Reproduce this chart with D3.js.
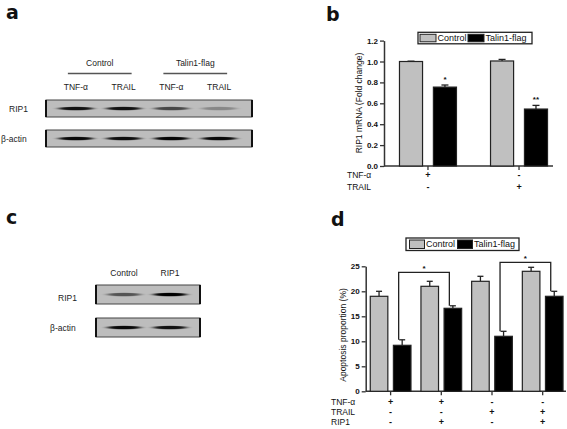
<!DOCTYPE html>
<html><head><meta charset="utf-8">
<script src="https://cdn.jsdelivr.net/npm/d3@7"></script>
<style>
html,body{margin:0;padding:0;background:#fff;}
svg{display:block;font-family:"Liberation Sans",Arial,sans-serif;}
</style></head>
<body>
<svg id="fig" width="567" height="429"></svg>
<script>
// ---------- DATA ----------
// Panel a (western blot)
const blotALanes = ["TNF-α (Control)", "TRAIL (Control)", "TNF-α (Talin1-flag)", "TRAIL (Talin1-flag)"];
const blotALaneLabels = ["TNF-α", "TRAIL", "TNF-α", "TRAIL"];
const blotAGroups = ["Control", "Talin1-flag"];
const blotARows = ["RIP1", "β-actin"];
const blotARip1 = [0.9, 0.9, 0.62, 0.28];
const blotAActin = [0.95, 0.92, 0.97, 0.95];

// Panel c (western blot)
const blotCLanes = ["Control", "RIP1"];
const blotCRows = ["RIP1", "β-actin"];
const blotCRip1 = [0.55, 1.0];
const blotCActin = [0.95, 0.9];

// Panel b (RIP1 mRNA)
const seriesNames = ["Control", "Talin1-flag"];
const bGroups = ["TNF-α", "TRAIL"];
const bControl = [1.0, 1.005];
const bControlErr = [0.003, 0.015];
const bTalin = [0.755, 0.545];
const bTalinErr = [0.02, 0.035];
const bStars = ["*", "**"];
const bTicks = [0, 0.2, 0.4, 0.6, 0.8, 1.0, 1.2];
const bRowLabels = ["TNF-α", "TRAIL"];
const bRowSigns = [["+", "-"], ["-", "+"]];

// Panel d (apoptosis)
const dGroups = ["TNF", "TNF+RIP1", "TRAIL", "TRAIL+RIP1"];
const dControl = [19, 21, 22, 24];
const dControlErr = [1.0, 1.0, 1.0, 0.8];
const dTalin = [9.2, 16.6, 11, 19];
const dTalinErr = [1.1, 0.5, 1.0, 1.0];
const dTicks = [0, 5, 10, 15, 20, 25];
const dRowLabels = ["TNF-α", "TRAIL", "RIP1"];
const dRowSigns = [["+", "+", "-", "-"], ["-", "-", "+", "+"], ["-", "+", "-", "+"]];
// significance brackets: from group, to group, bracket top value, left leg end, right leg end
const dBrackets = [
  {from: 0, to: 1, top: 23.8, left: 10.3, right: 17.1, label: "*"},
  {from: 2, to: 3, top: 25.8, left: 12.0, right: 20.0, label: "*"}
];

// ---------- DRAW ----------
const svg = d3.select("#fig");
const defs = svg.append("defs");
defs.append("filter").attr("id", "bandBlur").attr("x", "-30%").attr("y", "-200%").attr("width", "160%").attr("height", "500%")
  .append("feGaussianBlur").attr("stdDeviation", "3 0.6");

const GREY = "#c0c0c0";
const AX = "#333";

function panelLetter(t, x, y) {
  svg.append("text").attr("x", x).attr("y", y).attr("font-size", 19).attr("font-weight", "bold")
    .attr("font-family", "'DejaVu Sans','Liberation Sans',sans-serif").attr("fill", "#111").text(t);
}

function blot(lanesScale, lanes, values, y0, y1, x0, x1) {
  const g = svg.append("g");
  g.append("rect").attr("x", x0).attr("y", y0).attr("width", x1 - x0).attr("height", y1 - y0)
    .attr("fill", "#bdbdbd").attr("stroke", "#444").attr("stroke-width", 1);
  g.append("line").attr("x1", x0).attr("x2", x0).attr("y1", y0).attr("y2", y1).attr("stroke", "#111").attr("stroke-width", 2);
  g.append("line").attr("x1", x1).attr("x2", x1).attr("y1", y0).attr("y2", y1).attr("stroke", "#111").attr("stroke-width", 2);
  const cy = (y0 + y1) / 2;
  g.selectAll("ellipse").data(lanes).join("ellipse")
    .attr("cx", d => lanesScale(d) + lanesScale.bandwidth() / 2)
    .attr("cy", cy)
    .attr("rx", lanesScale.bandwidth() * 0.36)
    .attr("ry", 1.8)
    .attr("fill", "#000")
    .attr("opacity", (d, i) => values[i])
    .attr("filter", "url(#bandBlur)");
}

// ---- Panel a ----
panelLetter("a", 6, 19);
const xa = d3.scaleBand().domain(blotALanes).range([52, 243]);
const ca = d => xa(d) + xa.bandwidth() / 2;
svg.append("g").selectAll("text").data(blotALanes).join("text")
  .attr("x", d => ca(d)).attr("y", 90).attr("text-anchor", "middle").attr("font-size", 8.5).attr("fill", "#222")
  .text((d, i) => blotALaneLabels[i]);
blotAGroups.forEach((gname, gi) => {
  const l = blotALanes[gi * 2], r = blotALanes[gi * 2 + 1];
  const xl = ca(l) - 8, xr = ca(r) + 8;
  svg.append("line").attr("x1", xl).attr("x2", xr).attr("y1", 73.5).attr("y2", 73.5).attr("stroke", "#555").attr("stroke-width", 1.3);
  svg.append("text").attr("x", (xl + xr) / 2).attr("y", 66).attr("text-anchor", "middle").attr("font-size", 8.5).attr("fill", "#222").text(gname);
});
blot(xa, blotALanes, blotARip1, 100, 117, 46, 252);
blot(xa, blotALanes, blotAActin, 130, 147, 46, 252);
svg.append("text").attr("x", 9).attr("y", 111.5).attr("font-size", 8.5).attr("fill", "#222").text(blotARows[0]);
svg.append("text").attr("x", 1).attr("y", 141.5).attr("font-size", 8.5).attr("fill", "#222").text(blotARows[1]);

// ---- Panel c ----
panelLetter("c", 6, 224);
const xc = d3.scaleBand().domain(blotCLanes).range([101, 193]);
const cc = d => xc(d) + xc.bandwidth() / 2;
svg.append("g").selectAll("text").data(blotCLanes).join("text")
  .attr("x", d => cc(d)).attr("y", 276).attr("text-anchor", "middle").attr("font-size", 8.5).attr("fill", "#222").text(d => d);
blot(xc, blotCLanes, blotCRip1, 285, 304, 96, 200);
blot(xc, blotCLanes, blotCActin, 318, 337, 96, 200);
svg.append("text").attr("x", 58).attr("y", 301).attr("font-size", 8.5).attr("fill", "#222").text(blotCRows[0]);
svg.append("text").attr("x", 50).attr("y", 330.5).attr("font-size", 8.5).attr("fill", "#222").text(blotCRows[1]);

// ---- shared helpers for bar charts ----
function legend(x0, y0, w, h, swW, positions) {
  const g = svg.append("g");
  g.append("rect").attr("x", x0).attr("y", y0).attr("width", w).attr("height", h).attr("fill", "#fff").attr("stroke", "#222").attr("stroke-width", 1.3);
  seriesNames.forEach((s, i) => {
    const sx = positions[i];
    g.append("rect").attr("x", sx).attr("y", y0 + 2).attr("width", swW).attr("height", h - 4)
      .attr("fill", i === 0 ? GREY : "#000").attr("stroke", "#222").attr("stroke-width", 1);
    g.append("text").attr("x", sx + swW + 1.5).attr("y", y0 + h / 2 + 3.2).attr("font-size", 9).attr("fill", "#111").text(s);
  });
}

function barChart(opt) {
  const {y, x, xi, groups, ctrl, ctrlErr, tal, talErr, ticks, fmt, axisX0, axisX1, capW} = opt;
  const g = svg.append("g");
  const yAxis = d3.axisLeft(y).tickValues(ticks).tickFormat(fmt).tickSize(4).tickSizeOuter(0).tickPadding(2);
  const ga = g.append("g").attr("transform", `translate(${axisX0},0)`).call(yAxis);
  ga.select(".domain").attr("stroke", AX).attr("stroke-width", 1.5);
  ga.selectAll(".tick line").attr("stroke", AX).attr("stroke-width", 1.3);
  ga.selectAll(".tick text").attr("font-size", 8).attr("font-weight", "bold").attr("fill", "#111").attr("font-family", "'Liberation Sans',Arial,sans-serif");
  // x axis
  const y0 = y(0);
  g.append("line").attr("x1", axisX0).attr("x2", axisX1).attr("y1", y0).attr("y2", y0).attr("stroke", AX).attr("stroke-width", 1.5);
  g.selectAll(".xt").data(groups).join("line").attr("class", "xt")
    .attr("x1", d => x(d) + x.bandwidth() / 2).attr("x2", d => x(d) + x.bandwidth() / 2)
    .attr("y1", y0).attr("y2", y0 + 4).attr("stroke", AX).attr("stroke-width", 1.3);
  const series = [{name: seriesNames[0], v: ctrl, e: ctrlErr, fill: GREY}, {name: seriesNames[1], v: tal, e: talErr, fill: "#000"}];
  series.forEach(s => {
    groups.forEach((gr, i) => {
      const bx = x(gr) + xi(s.name), bw = xi.bandwidth(), cx = bx + bw / 2;
      const top = y(s.v[i]), etop = y(s.v[i] + s.e[i]);
      g.append("line").attr("x1", cx).attr("x2", cx).attr("y1", top).attr("y2", etop).attr("stroke", "#222").attr("stroke-width", 1.3);
      g.append("line").attr("x1", cx - capW / 2).attr("x2", cx + capW / 2).attr("y1", etop).attr("y2", etop).attr("stroke", "#222").attr("stroke-width", 1.3);
      g.append("rect").attr("x", bx).attr("y", top).attr("width", bw).attr("height", y0 - top)
        .attr("fill", s.fill).attr("stroke", "#222").attr("stroke-width", 1.2);
    });
  });
  return g;
}

function signRows(x, groups, labels, signs, lx, ys) {
  labels.forEach((lab, r) => {
    svg.append("text").attr("x", lx).attr("y", ys[r]).attr("font-size", 8.5).attr("fill", "#111").text(lab);
    svg.append("g").selectAll("text").data(groups).join("text")
      .attr("x", d => x(d) + x.bandwidth() / 2).attr("y", ys[r]).attr("text-anchor", "middle")
      .attr("font-size", 9).attr("font-weight", "bold").attr("fill", "#111").text((d, i) => signs[r][i]);
  });
}

// ---- Panel b ----
panelLetter("b", 326, 21);
const yB = d3.scaleLinear().domain([0, 1.2]).range([166, 40.6]);
const xB = d3.scaleBand().domain(bGroups).range([384, 563]).paddingInner(0.374).paddingOuter(0.17);
const xBi = d3.scaleBand().domain(seriesNames).range([0, xB.bandwidth()]).paddingInner(0.32);
barChart({y: yB, x: xB, xi: xBi, groups: bGroups, ctrl: bControl, ctrlErr: bControlErr, tal: bTalin, talErr: bTalinErr,
  ticks: bTicks, fmt: d3.format(".1f"), axisX0: 384, axisX1: 553, capW: 7});
svg.append("g").selectAll("text").data(bGroups).join("text")
  .attr("x", d => xB(d) + xBi(seriesNames[1]) + xBi.bandwidth() / 2)
  .attr("y", (d, i) => yB(bTalin[i] + bTalinErr[i]) - 3)
  .attr("text-anchor", "middle").attr("font-size", 8).attr("font-weight", "bold").attr("fill", "#111").text((d, i) => bStars[i]);
svg.append("text").attr("transform", `translate(362,103) rotate(-90)`).attr("text-anchor", "middle")
  .attr("font-size", 8.5).attr("fill", "#111").text("RIP1 mRNA (Fold change)");
legend(418, 32.3, 114, 11.5, 16, [420, 468]);
signRows(xB, bGroups, bRowLabels, bRowSigns, 347, [178, 189.5]);

// ---- Panel d ----
panelLetter("d", 331, 226);
const yD = d3.scaleLinear().domain([0, 25]).range([391.3, 266.3]);
const xD = d3.scaleBand().domain(dGroups).range([365.7, 567.6]).paddingInner(0.197).paddingOuter(0.09);
const xDi = d3.scaleBand().domain(seriesNames).range([0, xD.bandwidth()]).paddingInner(0.24);
barChart({y: yD, x: xD, xi: xDi, groups: dGroups, ctrl: dControl, ctrlErr: dControlErr, tal: dTalin, talErr: dTalinErr,
  ticks: dTicks, fmt: d3.format("d"), axisX0: 365.7, axisX1: 566, capW: 6});
svg.append("text").attr("transform", `translate(346,335) rotate(-90)`).attr("text-anchor", "middle")
  .attr("font-size", 8.5).attr("fill", "#111").text("Apoptosis proportion (%)");
legend(406, 238, 113, 12.5, 15, [409.5, 457.5]);
signRows(xD, dGroups, dRowLabels, dRowSigns, 331, [404.5, 414.5, 425]);
// brackets
dBrackets.forEach(b => {
  const xl = xD(dGroups[b.from]) + xDi(seriesNames[1]) + xDi.bandwidth() * 0.3;
  const xr = xD(dGroups[b.to]) + xDi(seriesNames[1]) + xDi.bandwidth() * 0.3;
  const yt = yD(b.top);
  svg.append("path").attr("d", `M${xl},${yD(b.left)}V${yt}H${xr}V${yD(b.right)}`)
    .attr("fill", "none").attr("stroke", "#222").attr("stroke-width", 1.3);
  svg.append("text").attr("x", (xl + xr) / 2).attr("y", yt - 1.5).attr("text-anchor", "middle")
    .attr("font-size", 8).attr("font-weight", "bold").attr("fill", "#111").text(b.label);
});
</script>
</body></html>
